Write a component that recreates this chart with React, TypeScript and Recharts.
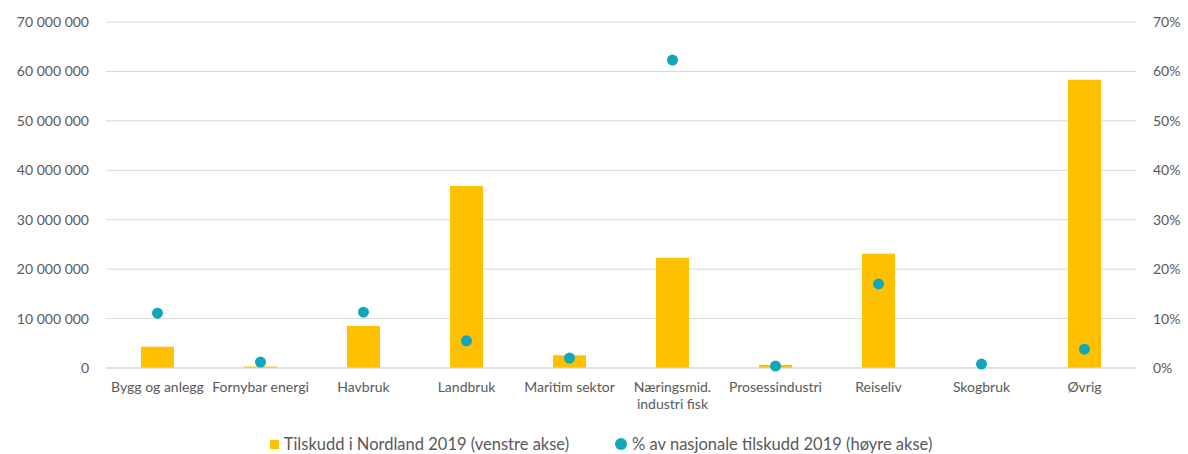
import React from 'react';
import { ComposedChart, Bar, Line, XAxis, YAxis, CartesianGrid, Legend } from 'recharts';

const categories = [
  'Bygg og anlegg',
  'Fornybar energi',
  'Havbruk',
  'Landbruk',
  'Maritim sektor',
  'Næringsmid. industri fisk',
  'Prosessindustri',
  'Reiseliv',
  'Skogbruk',
  'Øvrig',
];

// Tilskudd i Nordland 2019 (kr)
const tilskudd = [4300000, 300000, 8500000, 36800000, 2600000, 22300000, 600000, 23100000, 50000, 58300000];

// % av nasjonale tilskudd 2019
const andel = [11.1, 1.2, 11.3, 5.5, 2.0, 62.3, 0.4, 17.0, 0.8, 3.8];

const leftTicks = [0, 10000000, 20000000, 30000000, 40000000, 50000000, 60000000, 70000000];
const rightTicks = [0, 10, 20, 30, 40, 50, 60, 70];

const BAR_COLOR = '#FFC000';
const DOT_COLOR = '#12A6BA';
const TEXT_COLOR = '#595959';
const FONT = 'Lato, "Open Sans", sans-serif';

const data = categories.map((name, i) => ({ name, tilskudd: tilskudd[i], andel: andel[i] }));

function formatMillions(value: number) {
  return String(value).replace(/\B(?=(\d{3})+(?!\d))/g, ' ');
}

function wrapLabel(label: string, maxChars = 16) {
  const words = label.split(' ');
  const lines: string[] = [];
  let current = '';
  for (const w of words) {
    const next = current ? `${current} ${w}` : w;
    if (next.length > maxChars && current) {
      lines.push(current);
      current = w;
    } else {
      current = next;
    }
  }
  if (current) lines.push(current);
  return lines;
}

// eslint-disable-next-line @typescript-eslint/no-explicit-any
function CategoryTick(props: any) {
  const { x, y, payload } = props;
  const lines = wrapLabel(payload.value);
  return (
    <text x={x} y={y} textAnchor="middle" fill={TEXT_COLOR} fontSize={14} fontFamily={FONT}>
      {lines.map((line, i) => (
        <tspan key={i} x={x} dy={i === 0 ? '0.71em' : 17}>
          {line}
        </tspan>
      ))}
    </text>
  );
}

function LegendContent() {
  return (
    <div
      style={{
        display: 'flex',
        justifyContent: 'center',
        alignItems: 'center',
        gap: 46,
        height: 24,
        paddingTop: 4,
        paddingLeft: 14,
        boxSizing: 'border-box',
        fontFamily: FONT,
        fontSize: 16.5,
        color: TEXT_COLOR,
        lineHeight: '18px',
        whiteSpace: 'nowrap',
      }}
    >
      <span style={{ display: 'flex', alignItems: 'center' }}>
        <span style={{ width: 9, height: 9, background: BAR_COLOR, marginRight: 5, display: 'inline-block' }} />
        Tilskudd i Nordland 2019 (venstre akse)
      </span>
      <span style={{ display: 'flex', alignItems: 'center' }}>
        <span
          style={{ width: 12, height: 12, borderRadius: '50%', background: DOT_COLOR, marginRight: 5, display: 'inline-block' }}
        />
        % av nasjonale tilskudd 2019 (høyre akse)
      </span>
    </div>
  );
}

export default function App() {
  return (
    <div style={{ position: 'absolute', left: 0, top: 0, width: 1188, height: 454, background: '#fff', overflow: 'hidden' }}>
      <ComposedChart width={1188} height={454} data={data} margin={{ top: 22, right: 0, left: 0, bottom: 0 }}>
        <CartesianGrid vertical={false} stroke="#D9D9D9" yAxisId="left" />
        <XAxis
          dataKey="name"
          tick={<CategoryTick />}
          tickLine={false}
          axisLine={{ stroke: '#D9D9D9' }}
          tickMargin={8}
          interval={0}
          height={62}
        />
        <YAxis
          yAxisId="left"
          orientation="left"
          width={106}
          domain={[0, 70000000]}
          ticks={leftTicks}
          tickFormatter={formatMillions}
          tick={{ fontSize: 14, fill: TEXT_COLOR, fontFamily: FONT }}
          tickLine={false}
          axisLine={false}
          tickMargin={11}
        />
        <YAxis
          yAxisId="right"
          orientation="right"
          width={52}
          domain={[0, 70]}
          ticks={rightTicks}
          tickFormatter={(v: number) => `${v}%`}
          tick={{ fontSize: 14, fill: TEXT_COLOR, fontFamily: FONT, textAnchor: 'start' }}
          tickLine={false}
          axisLine={false}
          tickMargin={11}
        />
        <Legend verticalAlign="bottom" content={<LegendContent />} />
        <Bar
          yAxisId="left"
          dataKey="tilskudd"
          name="Tilskudd i Nordland 2019 (venstre akse)"
          fill={BAR_COLOR}
          barSize={33}
          isAnimationActive={false}
        />
        <Line
          yAxisId="right"
          dataKey="andel"
          name="% av nasjonale tilskudd 2019 (høyre akse)"
          stroke="none"
          strokeWidth={0}
          dot={{ r: 5.5, fill: DOT_COLOR, stroke: 'none' }}
          activeDot={false}
          isAnimationActive={false}
        />
      </ComposedChart>
    </div>
  );
}
